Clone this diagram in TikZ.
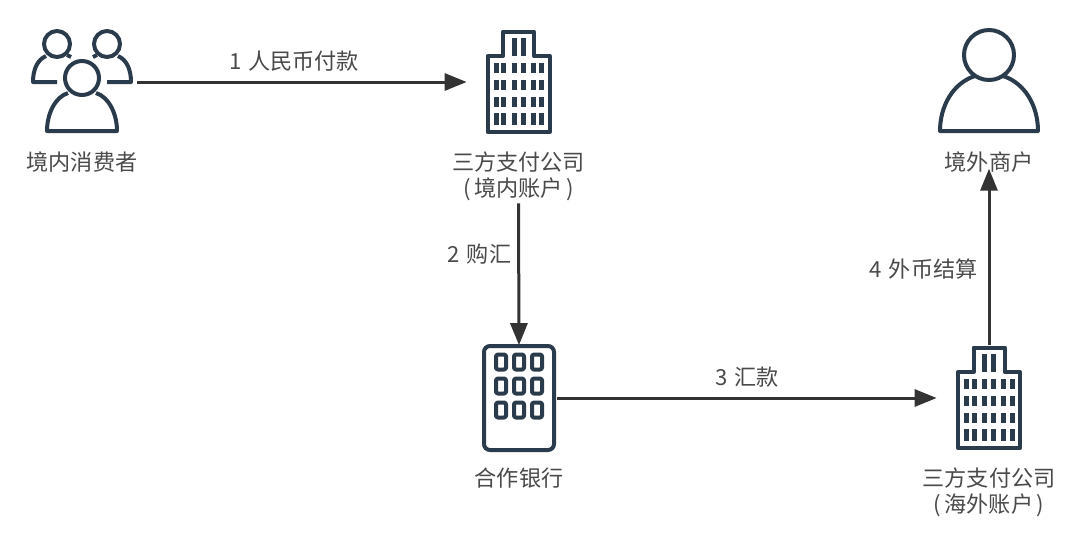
\documentclass[tikz,border=0pt]{standalone}
\usepackage{xcolor}
\usepackage{fontspec}
\setmainfont{Noto Sans CJK SC}
\usetikzlibrary{positioning, arrows.meta}
\definecolor{iconC}{HTML}{2A3B4C}
\definecolor{textC}{HTML}{4A4A4A}
\definecolor{lineC}{HTML}{333333}
\tikzset{
tower/.pic={
\draw[iconline] (-31,-26) -- (-15.5,-26) -- (-15.5,-50.5) -- (15.5,-50.5) -- (15.5,-26) -- (31,-26) -- (31,50) -- (-31,50) -- cycle;
\foreach \wx in {-4.5,4.5} {\fill[iconC] (\wx-2.5,-44) rectangle (\wx+2.5,-26);}
\foreach \wx in {-22.5,-15,-4.5,4.5,14.5,23} {\foreach \wy in {-19,-2,15} {\fill[iconC] (\wx-2.5,\wy) rectangle (\wx+2.5,\wy+10);}
\fill[iconC] (\wx-2.5,31) rectangle (\wx+2.5,43);}
},
bank/.pic={
\draw[iconline, rounded corners=0.12cm] (-35,-52) rectangle (35,52);
\foreach \wx in {-18,0,18} {\foreach \wy in {-36,-12,12} {\draw[iconline, rounded corners=0.04cm] (\wx-5,\wy-7.5) rectangle (\wx+5,\wy+7.5);}}
},
person/.pic={
\draw[iconline] (0,-27) circle (25);
\draw[iconline] (-14,-6) .. controls (-36,1) and (-49,24) .. (-49,49) -- (49,49) .. controls (49,24) and (36,1) .. (14,-6);
},
crowd/.pic={
\foreach \sx in {-1,1} {
\draw[iconline] (\sx*25,-38) circle (13);
\draw[iconline] (\sx*25,0) -- (\sx*49,0) .. controls (\sx*49,-12) and (\sx*45,-22) .. (\sx*36,-26);
\draw[iconline] (\sx*15,-27) -- (\sx*11,-25);}
\draw[iconline] (0,-4) circle (17);
\draw[iconline] (-14,11) .. controls (-27,15) and (-35,32) .. (-35,49) -- (35,49) .. controls (35,32) and (27,15) .. (14,11);
}}
\begin{document}
\begin{tikzpicture}[x=0.02cm,y=-0.02cm,iconline/.style={draw=iconC, line width=0.08cm, line join=round},hold/.style={minimum width=#1*0.02cm, minimum height=2.1cm, inner sep=0pt},lbl/.style={font=\fontsize{12.6}{14.7}\selectfont, color=textC, align=center, inner sep=0pt},flow/.style={draw=lineC, line width=0.06cm, -{Triangle[length=0.44cm, width=0.34cm]}}]
\useasboundingbox[fill=white] (0,0) rectangle (1080,535);
\pic at (82,82) {crowd}; \pic at (518.5,82) {tower}; \pic at (519,398) {bank}; \pic at (989,398) {tower}; \pic at (989,82) {person};
\node[hold=110] (consumer) at (82,82) {};
\node[hold=103] (payIn) at (518.5,82) {};
\node[hold=76] (cbank) at (519,398) {};
\node[hold=104] (payOut) at (989,398) {};
\node[hold=104] (merchant) at (989,82) {};
\node[lbl, below=0.33cm of consumer] (consumerL) {境内消费者};
\node[lbl, below=0.33cm of payIn] (payInL) {三方支付公司\\(\,境内账户\,)};
\node[lbl, below=0.33cm of cbank] (cbankL) {合作银行};
\node[lbl, below=0.33cm of payOut] (payOutL) {三方支付公司\\(\,海外账户\,)};
\node[lbl, below=0.33cm of merchant] (merchantL) {境外商户};
\draw[flow] (consumer.east) -- (payIn.west) node[lbl, pos=0.476, above=0.18cm] {1\kern1pt{} 人民币付款};
\draw[flow] ([yshift=-0.05cm]payInL.south) -- (cbank.north) node[lbl, pos=0.36, left=0.12cm] {2\kern1pt{} 购汇};
\draw[flow] (cbank.east) -- (payOut.west) node[lbl, midway, above=0.18cm] {3\kern1pt{} 汇款};
\draw[flow] (payOut.north) -- ([yshift=0.08cm]merchantL.south) node[lbl, pos=0.43, left=0.2cm] {4\kern1pt{} 外币结算};
\end{tikzpicture}
\end{document}
